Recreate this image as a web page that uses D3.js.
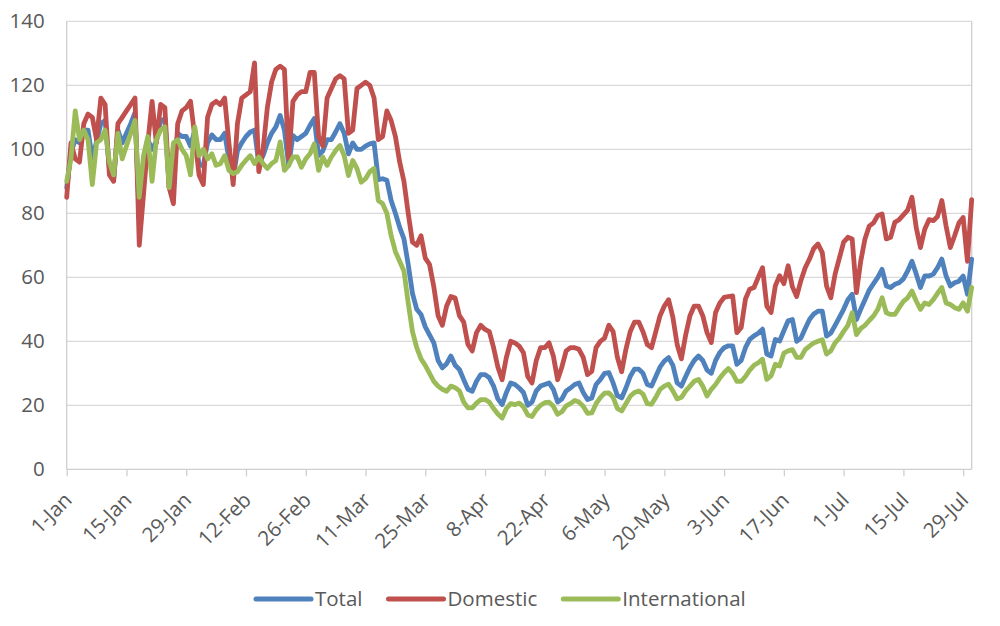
<!DOCTYPE html>
<html lang="en">
<head>
<meta charset="UTF-8">
<title>Total, Domestic and International</title>
<script src="https://cdn.jsdelivr.net/npm/d3@7/dist/d3.min.js"></script>
<style>
  body { margin: 0; background: #fff; }
  svg text { font-family: "Open Sans", sans-serif; fill: #595959; }
</style>
</head>
<body>
<div id="chart"></div>
<script>
// daily index values, 1-Jan to 31-Jul 2020
var firstDay = "2020-01-01";
var lastDay = "2020-07-31";
var tickLabels = ["1-Jan", "15-Jan", "29-Jan", "12-Feb", "26-Feb", "11-Mar", "25-Mar", "8-Apr",
                  "22-Apr", "6-May", "20-May", "3-Jun", "17-Jun", "1-Jul", "15-Jul", "29-Jul"];
var yTicks = [0, 20, 40, 60, 80, 100, 120, 140];
var seriesNames = ["Total", "Domestic", "International"];

var total = [88,99,103,102,106,106,97,102.5,108,109,
  94,91,106,102,105,108,111.5,79,93,103,
  100,102.5,109,109.5,88,94,105,104,104,101,
  106,95,95,102,104.5,103,103,105,97,91,
  99.5,102,104,105.4,106,95.5,98,102,105,107,
  110.6,106,95,104.3,103,104,105,107.5,109.6,98,
  99.5,103,103,105.4,108,105,98.6,102,100,100,
  101,101.7,102,90.5,90.8,90.3,84,80,75.6,72,
  64,55,50,48.4,44.5,42,39.5,34,31.7,33,
  35.4,32.5,31.2,28,25,24.4,27.5,29.6,29.6,28.6,
  26,22,20.2,24,27,26.5,25.4,24,20,21,
  24.5,26,26.5,27,25,21,22,24.5,25.4,26.5,
  27,24,21.8,22.3,26.5,28,30,30.2,27,23,
  22.3,25.4,29,31.3,31.3,30,26.5,26,29,32,
  33.8,34.9,32.5,27,26,29,31.8,34,35.4,34,
  31,30,34,36.5,38,38.6,38.6,32.8,34,38,
  40.6,41.7,42.5,43.8,36,35.4,40.6,40.1,43.3,46.4,
  46.8,40,41,44,46.8,48.5,49.4,49.4,41.6,42.6,
  45,47.5,50,53,54.7,46.8,50,53,56,58,
  60,62.5,57.3,56.8,57.8,58.3,59.5,62,65,61,
  56.8,60.4,60.4,61,63,65.7,60.4,57.3,58.3,58.8,
  60.4,54.7,65.7];

var domestic = [85,102,97,96,108,111,110,103,116,114,
  92,90,108,110,112,114,116,70,86,102,
  115,102,114,113,88,83,108,112,113,115,
  104,92,89,110,114,115,114,116,102,89,
  108,116,117,118,127,93,100,113,121,125,
  126,125,97,115,117,118,118,124,124,104,
  101,116,119,122,123,122,105,106,119,120,
  121,120,116,103,104,112,109,104,96,90,
  80,71,70,73,66,64,57,48,45,51,
  54,53.5,48,46,39,37,42.7,45,43.7,43,
  38,32,28,35,40,39.5,38.5,36.4,29,27,
  34,38,38,39.5,35.4,28,32,37,38,38,
  37.5,35,29.6,30.6,38,40,41,45,43,35,
  30.5,37.5,43,46,46,43,39,38,43,48,
  51,53,47.5,39,34.5,42,48,51,51,48,
  42.7,39.6,49,52,53.7,54,54.2,42.7,44.3,53.2,
  56.3,56.8,60,63,51,49,57.3,60.5,58,63.6,
  57,54,59,63,65.7,69,70.4,67.7,57.3,53.6,
  61,66,71,72.5,72,55.2,65,72,76,77,
  79.3,79.8,72,72.5,77.2,78,79.5,81,85,75.6,
  69.3,75,78,77.7,79,84,76,69.3,73,77,
  78.7,65,84.3];

var international = [90,97,112,103,106,103,89,102,103,106,
  96,92,105,97,101,105,109,85,98,104,
  90,103,106,107,88,102,103,100,98,92,
  107,98,100,97,98.6,95,95.5,98,93.4,92.4,
  93,95,96.6,98,95.5,97.6,95.5,94,95.5,96.5,
  102.3,93.4,95,97.6,97.6,94.4,97,98.6,101.7,93.4,
  97.6,95,97.6,99.6,101.2,98,91.8,96.5,94,89.7,
  90.8,93,94,84,83,80,73,68,65,62,
  52,43,38,34.5,32.5,30,27.5,26,25,24.4,
  26,25.5,24.5,21,19.2,19.2,20.7,21.8,21.8,21,
  19,17.3,16,19,20.5,20.2,20.7,19.5,17,16.5,
  18.6,20,20.8,21,19.7,17.2,18,19.8,20.5,21.5,
  21,19.7,17.5,17.6,20.5,22.4,23.8,23.9,22.5,19,
  18.2,20.5,22.8,24,24.5,23.5,20.5,20.3,22.5,25,
  26,26.6,24.5,22,22.5,24.5,26,27.5,28.1,26,
  22.9,25,26.5,28.5,30.2,31.5,30,27.5,27.5,29,
  31,32.5,33.3,34.4,28.1,29.2,32.8,32.3,36.3,37,
  37.4,35,35,37.4,38.5,39.5,40,40.5,36,37,
  39.5,41,43.1,45,48.9,42.1,44,45,46.5,47.9,
  50,53.6,48.9,48.4,48.4,50.5,52.5,53.6,55.7,52.6,
  50,52,51.5,53,55,56.8,52,51.5,50.5,50,
  52,49.4,56.8];

var colors = ["#4F81BD", "#C0504D", "#9BBB59"];

var w = 1000, h = 626;
var plotLeft = 66.7, plotRight = 971.7, plotTop = 21.3, plotBottom = 469.3;

var parseDay = d3.timeParse("%Y-%m-%d");
var parseTick = d3.timeParse("%d-%b-%Y");
var days = d3.timeDay.range(parseDay(firstDay), d3.timeDay.offset(parseDay(lastDay), 1));
var tickDates = tickLabels.map(function(t) { return parseTick(t + "-2020"); });

var series = [total, domestic, international];

var x = d3.scaleTime()
    .domain([parseDay(firstDay), parseDay(lastDay)])
    .range([plotLeft, plotRight]);

var y = d3.scaleLinear()
    .domain([0, 140])
    .range([plotBottom, plotTop]);

var svg = d3.select("#chart").append("svg")
    .attr("width", w)
    .attr("height", h);

// gridlines
svg.append("g")
  .selectAll("line")
  .data(yTicks.slice(1))
  .enter().append("line")
    .attr("x1", plotLeft).attr("x2", plotRight)
    .attr("y1", function(d) { return y(d); })
    .attr("y2", function(d) { return y(d); })
    .attr("stroke", "#d9d9d9")
    .attr("stroke-width", 1.3);

// plot border left / right
svg.append("line").attr("x1", plotLeft).attr("x2", plotLeft).attr("y1", plotTop).attr("y2", plotBottom)
    .attr("stroke", "#cfcfcf").attr("stroke-width", 1.3);
svg.append("line").attr("x1", plotRight).attr("x2", plotRight).attr("y1", plotTop).attr("y2", plotBottom)
    .attr("stroke", "#cfcfcf").attr("stroke-width", 1.3);

// y axis labels
var yAxis = svg.append("g")
    .attr("transform", "translate(" + plotLeft + ",0)")
    .call(d3.axisLeft(y).tickValues(yTicks).tickSize(0).tickPadding(22));
yAxis.select(".domain").remove();
yAxis.selectAll("text")
    .attr("font-size", "20.5px")
    .attr("font-family", "Open Sans, sans-serif")
    .attr("fill", "#595959");

// x axis
var xAxis = svg.append("g")
    .attr("transform", "translate(0," + plotBottom + ")")
    .call(d3.axisBottom(x)
      .tickValues(tickDates)
      .tickSize(7)
      .tickFormat(function(d, i) { return tickLabels[i]; }));
xAxis.select(".domain").attr("stroke", "#cfcfcf").attr("stroke-width", 1.3)
    .attr("d", "M" + plotLeft + ",0H" + plotRight);
xAxis.selectAll(".tick line").attr("stroke", "#cfcfcf").attr("stroke-width", 1.3);
xAxis.selectAll("text")
    .attr("font-size", "20.5px")
    .attr("font-family", "Open Sans, sans-serif")
    .attr("fill", "#595959")
    .attr("text-anchor", "end")
    .attr("x", 0).attr("y", 0).attr("dy", 0)
    .attr("transform", "translate(6,32) rotate(-45)");

// lines
var line = d3.line()
    .x(function(d, i) { return x(days[i]); })
    .y(function(d) { return y(d); });

svg.append("g")
  .selectAll("path")
  .data(series)
  .enter().append("path")
    .attr("d", line)
    .attr("fill", "none")
    .attr("stroke", function(d, i) { return colors[i]; })
    .attr("stroke-width", 4.8)
    .attr("stroke-linejoin", "round")
    .attr("stroke-linecap", "round");

// legend
var legend = svg.append("g");
var lx = 256, ly = 599;
seriesNames.forEach(function(name, i) {
  legend.append("line")
    .attr("x1", lx).attr("x2", lx + 55)
    .attr("y1", ly).attr("y2", ly)
    .attr("stroke", colors[i])
    .attr("stroke-width", 5)
    .attr("stroke-linecap", "round");
  var t = legend.append("text")
    .attr("x", lx + 59)
    .attr("y", ly + 7)
    .attr("font-size", "20.5px")
    .text(name);
  lx = lx + 59 + t.node().getComputedTextLength() + 26;
});
</script>
</body>
</html>
